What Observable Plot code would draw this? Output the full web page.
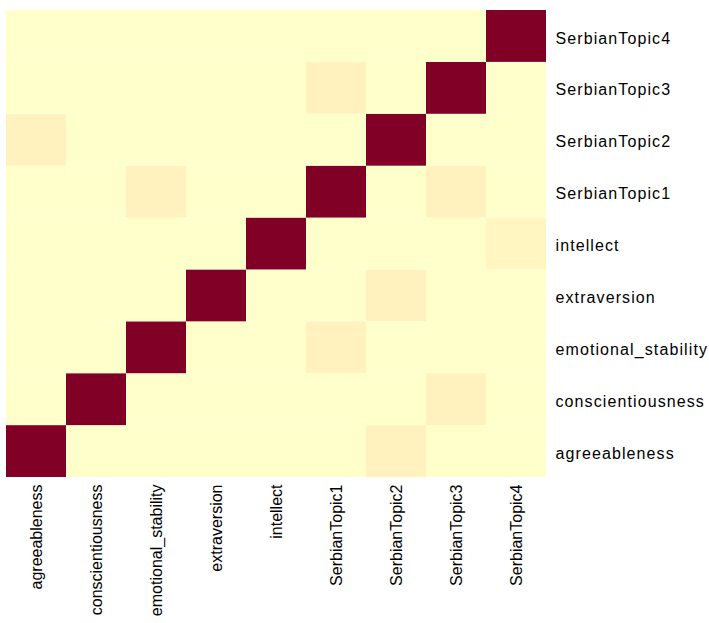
<!DOCTYPE html>
<html>
<head>
<meta charset="utf-8">
<script src="https://cdn.jsdelivr.net/npm/d3@7"></script>
<script src="https://cdn.jsdelivr.net/npm/@observablehq/plot@0.6"></script>
<style>
  html, body { margin: 0; padding: 0; background: #ffffff; }
  #chart svg { display: block; overflow: visible; }
</style>
</head>
<body>
<div id="chart"></div>
<script>
// Variables, in the order used for both axes
const variables = [
  "agreeableness", "conscientiousness", "emotional_stability", "extraversion",
  "intellect", "SerbianTopic1", "SerbianTopic2", "SerbianTopic3", "SerbianTopic4"
];

// One row of strength values per variable (columns follow `variables`)
const agreeablenessRow      = [1, 0, 0, 0, 0, 0, 0.1, 0, 0];
const conscientiousnessRow  = [0, 1, 0, 0, 0, 0, 0, 0.1, 0];
const emotionalStabilityRow = [0, 0, 1, 0, 0, 0.1, 0, 0, 0];
const extraversionRow       = [0, 0, 0, 1, 0, 0, 0.1, 0, 0];
const intellectRow          = [0, 0, 0, 0, 1, 0, 0, 0, 0.07];
const serbianTopic1Row      = [0, 0, 0.1, 0, 0, 1, 0, 0.1, 0];
const serbianTopic2Row      = [0.1, 0, 0, 0, 0, 0, 1, 0, 0];
const serbianTopic3Row      = [0, 0, 0, 0, 0, 0.1, 0, 1, 0];
const serbianTopic4Row      = [0, 0, 0, 0, 0, 0, 0, 0, 1];

const rows = [
  agreeablenessRow, conscientiousnessRow, emotionalStabilityRow, extraversionRow,
  intellectRow, serbianTopic1Row, serbianTopic2Row, serbianTopic3Row, serbianTopic4Row
];

// Long-form cells for the heatmap
const cells = rows.flatMap((vals, i) =>
  vals.map((v, j) => ({ row: variables[i], col: variables[j], value: v }))
);

const chart = Plot.plot({
  width: 709,
  height: 623,
  marginLeft: 6,
  marginTop: 10,
  marginRight: 163,
  marginBottom: 146,
  style: { fontFamily: "Arial, 'Liberation Sans', sans-serif", fontSize: "16px", color: "#000", overflow: "visible" },
  x: { domain: variables, padding: 0, round: false, label: null },
  y: { domain: variables.slice().reverse(), padding: 0, round: false, label: null },
  color: {
    type: "linear",
    domain: [0, 0.1, 1],
    range: ["#ffffcc", "#fff2be", "#800026"]
  },
  marks: [
    Plot.cell(cells, { x: "col", y: "row", fill: "value", inset: 0 }),
    Plot.axisX({ anchor: "bottom", tickSize: 0, tickPadding: 7, tickRotate: -90, fontSize: 16 }),
    Plot.axisY({ anchor: "right", tickSize: 0, tickPadding: 9, textAnchor: "start", fontSize: 16, dy: 2 })
  ]
});

document.getElementById("chart").appendChild(chart);

// Row labels are set a little wider, as in the original device output
d3.select(chart).selectAll('g[aria-label="y-axis tick label"] text')
  .style("letter-spacing", "1.1px");
</script>
</body>
</html>
